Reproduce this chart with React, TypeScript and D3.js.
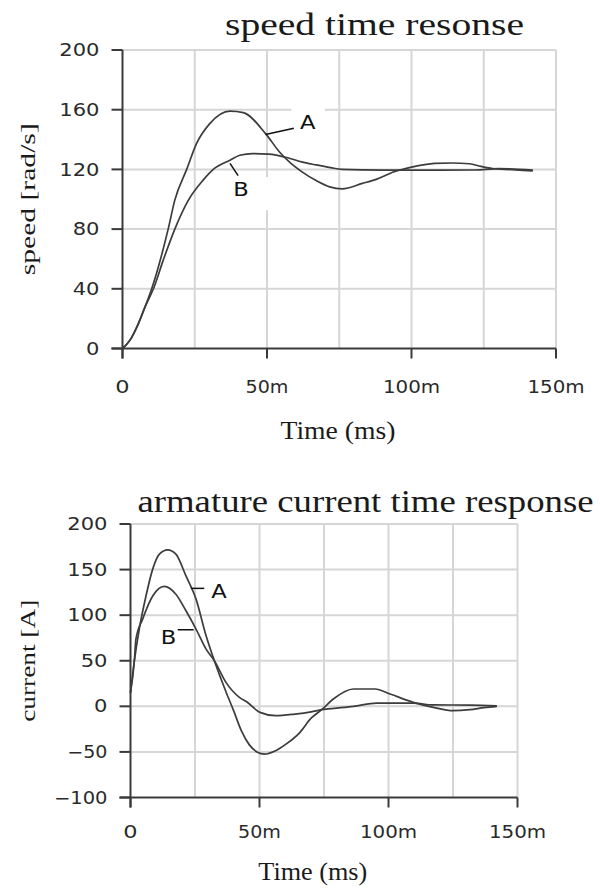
import React from 'react';
import * as d3 from 'd3';

// ---------- data: speed time response ----------
const speedTimeA = [0, 2.6, 5.5, 7.8, 10.1, 15.8, 18.1, 22.2, 25.6, 30.2, 37.2, 41.8, 49.5, 54.4, 58, 62, 67, 71.7, 76, 83, 88, 94, 100, 108, 114, 120, 124, 128, 135, 142];
const speedA = [0, 5.6, 16.7, 27.9, 40, 80, 99.4, 120, 137.3, 150.7, 159, 158, 144, 131.5, 124.5, 118.5, 112.5, 108.3, 107, 110.6, 113.5, 118.4, 121.5, 124, 124.3, 123.8, 122, 120.6, 119.8, 119];
const speedTimeB = [0, 2.6, 5.5, 7.8, 10.7, 14.1, 18.1, 22.8, 27.9, 31.4, 37.2, 40.6, 45, 50.5, 57.7, 62, 67, 72, 76, 90, 110, 122, 130, 142];
const speedB = [0, 5.6, 16.7, 27.9, 40, 59.2, 80, 99.4, 112.8, 120, 126.2, 129.5, 130.6, 130.3, 127.5, 125, 123, 121.2, 120, 119.5, 119.5, 119.6, 120.5, 119.5];

// ---------- data: armature current time response ----------
const currentTimeA = [0, 1.5, 3.4, 6, 8.6, 11.2, 14.4, 17.6, 21.5, 25.4, 29.3, 32.5, 37, 40, 43, 46, 49, 52, 56, 60, 65.7, 70, 74.1, 78.6, 86.4, 94.8, 100.6, 109.6, 117.4, 125.1, 131.5, 137, 142];
const currentA = [15, 50, 84.8, 121, 150.5, 167, 171.7, 167, 143, 117.6, 77.4, 50, 16, -5, -27, -42, -50, -52.5, -49, -42, -28.5, -13, -3.7, 8, 19, 19, 13.5, 4.4, -1.1, -4.8, -3.7, -1.5, 0];
const currentTimeB = [0, 1.5, 2.1, 4.7, 8.6, 13.1, 17.6, 21.5, 25.4, 29.3, 32.5, 37, 42.2, 45, 50.2, 56.3, 63.7, 70, 74.1, 82.8, 86.4, 95.4, 109.6, 117.4, 131.6, 142];
const currentB = [15, 50, 73.8, 95.7, 121, 131.6, 123, 104.8, 84.8, 62.8, 50, 26.3, 9.9, 5, -6.6, -10.3, -8.5, -6, -3.7, -1.1, 0, 3.6, 3.6, 1.5, 1.4, 0.5];

// ---------- axes ----------
const timeTicks = [0, 50, 100, 150];
const timeTickLabels = ['0', '50m', '100m', '150m'];
const timeGrid = [25, 50, 75, 100, 125, 150];
const speedTicks = [0, 40, 80, 120, 160, 200];
const currentTicks = [-100, -50, 0, 50, 100, 150, 200];

// annotation anchors, in data units
const speedLabels = [
  { text: 'A', t: 64.1, v: 151.6, from: [49.5, 143.4], to: [59.3, 147.6], box: [58.4, 70, 163, 140.6] },
  { text: 'B', t: 41, v: 106.8, from: [37.2, 124], to: [40, 115.8], box: [37.9, 51.7, 114.8, 92.7] },
];
const currentLabels = [
  { text: 'A', t: 34.3, v: 126.8, from: [23.4, 129.4], to: [28.6, 129.4], box: null },
  { text: 'B', t: 14.7, v: 76.5, from: [18.3, 84], to: [24.5, 84], box: null },
];

const SERIF = '"Liberation Serif", "Times New Roman", serif';
const SANS = '"DejaVu Sans", Verdana, sans-serif';
const AXIS = '#3a3a3a';
const GRID = '#d6d6d6';
const LINE = '#3c3c3c';

type Cfg = {
  title: string; titleX: number; titleY: number; titleLen: number;
  yTitle: string; yTitleX: number; yTitleLen: number;
  xTitleX: number; xTitleY: number; xTitleLen: number;
  x: d3.ScaleLinear<number, number>; y: d3.ScaleLinear<number, number>;
  yTicks: number[]; xLabelY: number;
  series: { t: number[]; v: number[] }[];
  labels: typeof speedLabels;
};

function Panel({ c }: { c: Cfg }) {
  const { x, y } = c;
  const [x0, x1] = x.range();
  const [yb, yt] = y.range();
  const line = d3.line<[number, number]>().x(d => x(d[0])).y(d => y(d[1])).curve(d3.curveMonotoneX);
  const yMid = (yb + yt) / 2;
  return (
    <g>
      {c.yTicks.filter(v => y(v) !== yb).map(v => (
        <line key={'gy' + v} x1={x0} x2={x1} y1={y(v)} y2={y(v)} stroke={GRID} strokeWidth={2} />
      ))}
      {timeGrid.map(t => (
        <line key={'gx' + t} x1={x(t)} x2={x(t)} y1={yt} y2={yb} stroke={GRID} strokeWidth={2} />
      ))}
      {c.labels.filter(l => l.box).map((l, i) => {
        const b = l.box as number[];
        return <rect key={'bx' + i} x={x(b[0])} y={y(b[2])} width={x(b[1]) - x(b[0])} height={y(b[3]) - y(b[2])} fill="#fff" />;
      })}
      <line x1={x0} x2={x0} y1={yt} y2={yb + 10} stroke={AXIS} strokeWidth={2} />
      <line x1={x0 - 11} x2={x1} y1={yb} y2={yb} stroke={AXIS} strokeWidth={2} />
      {c.yTicks.map(v => (
        <g key={'ty' + v}>
          <line x1={x0 - 11} x2={x0} y1={y(v)} y2={y(v)} stroke={AXIS} strokeWidth={2} />
          <text x={x0 - 23} y={y(v)} dy="0.36em" textAnchor="end" fontFamily={SANS} fontSize={17}
            fill="#2a2a2a" textLength={String(v).length * 13.4} lengthAdjust="spacingAndGlyphs">{String(v).replace('-', '\u2212')}</text>
        </g>
      ))}
      {timeTicks.map((t, i) => (
        <g key={'tx' + t}>
          <line x1={x(t)} x2={x(t)} y1={yb} y2={yb + 10} stroke={AXIS} strokeWidth={2} />
          <text x={x(t)} y={c.xLabelY} dy="0.36em" textAnchor="middle" fontFamily={SANS} fontSize={17}
            fill="#2a2a2a" textLength={timeTickLabels[i].length * 14.3} lengthAdjust="spacingAndGlyphs">{timeTickLabels[i]}</text>
        </g>
      ))}
      {c.series.map((s, i) => (
        <path key={'s' + i} d={line(s.t.map((t, k) => [t, s.v[k]]) as [number, number][]) || ''} fill="none"
          stroke={LINE} strokeWidth={1.7} strokeLinejoin="round" />
      ))}
      {c.labels.map((l, i) => (
        <g key={'l' + i}>
          <line x1={x(l.from[0])} y1={y(l.from[1])} x2={x(l.to[0])} y2={y(l.to[1])} stroke="#111" strokeWidth={1.5} />
          <text x={x(l.t)} y={y(l.v)} dy="0.36em" textAnchor="middle" fontFamily={SANS} fontSize={20}
            fill="#111" textLength={15.5} lengthAdjust="spacingAndGlyphs">{l.text}</text>
        </g>
      ))}
      <text x={c.titleX} y={c.titleY} fontFamily={SERIF} fontSize={32} fill="#1a1a1a"
        textLength={c.titleLen} lengthAdjust="spacingAndGlyphs">{c.title}</text>
      <text transform={`translate(${c.yTitleX},${yMid}) rotate(-90)`} x={0} y={0} dy="0.3em"
        textAnchor="middle" fontFamily={SERIF} fontSize={22} fill="#1a1a1a"
        textLength={c.yTitleLen} lengthAdjust="spacingAndGlyphs">{c.yTitle}</text>
      <text x={c.xTitleX} y={c.xTitleY} textAnchor="middle" fontFamily={SERIF} fontSize={26} fill="#1a1a1a"
        textLength={c.xTitleLen} lengthAdjust="spacingAndGlyphs">Time (ms)</text>
    </g>
  );
}

export default function App() {
  const top: Cfg = {
    title: 'speed time resonse', titleX: 225, titleY: 35, titleLen: 299,
    yTitle: 'speed [rad/s]', yTitleX: 28.4, yTitleLen: 152,
    xTitleX: 338, xTitleY: 439, xTitleLen: 115,
    x: d3.scaleLinear().domain([0, 150]).range([122.5, 556]),
    y: d3.scaleLinear().domain([0, 200]).range([348.5, 50]),
    yTicks: speedTicks, xLabelY: 386.7,
    series: [{ t: speedTimeA, v: speedA }, { t: speedTimeB, v: speedB }],
    labels: speedLabels,
  };
  const bottom: Cfg = {
    title: 'armature current time response', titleX: 137.5, titleY: 511.7, titleLen: 456,
    yTitle: 'current [A]', yTitleX: 28.8, yTitleLen: 122,
    xTitleX: 312.8, xTitleY: 880, xTitleLen: 109,
    x: d3.scaleLinear().domain([0, 150]).range([130.5, 517.5]),
    y: d3.scaleLinear().domain([-100, 200]).range([797.5, 524]),
    yTicks: currentTicks, xLabelY: 831.7,
    series: [{ t: currentTimeA, v: currentA }, { t: currentTimeB, v: currentB }],
    labels: currentLabels,
  };
  return (
    <svg width={600} height={889} style={{ position: 'absolute', left: 0, top: 0, background: '#fff' }}>
      <rect width={600} height={889} fill="#fff" />
      <Panel c={top} />
      <Panel c={bottom} />
    </svg>
  );
}
